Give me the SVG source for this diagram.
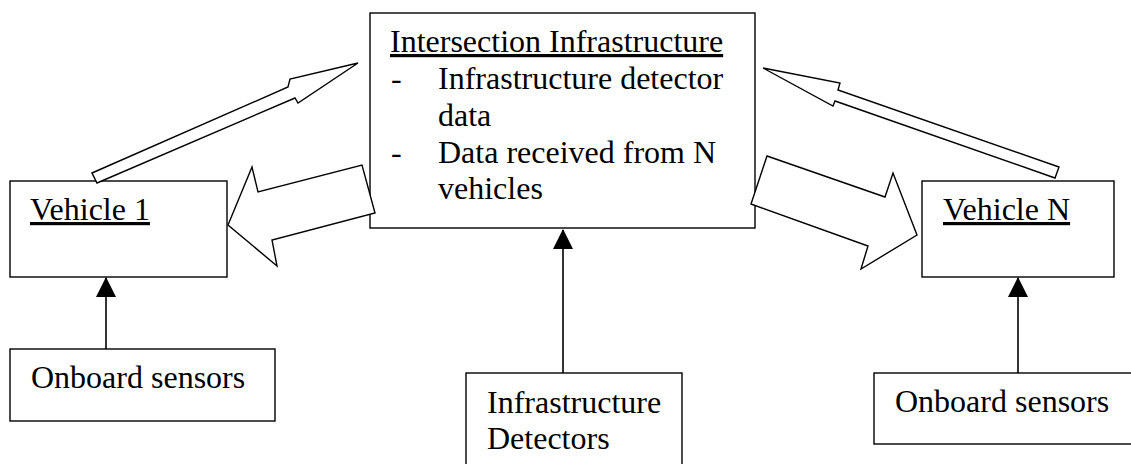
<svg xmlns="http://www.w3.org/2000/svg" width="1131" height="464" viewBox="0 0 1131 464">
  <style>
    .box { fill: #ffffff; stroke: #000000; stroke-width: 1.4; }
    .blk { fill: #ffffff; stroke: #000000; stroke-width: 1.4; stroke-linejoin: miter; }
    .t { font-size: 32px; fill: #000000; }
    .u { text-decoration: underline; }
    .line { stroke: #000000; stroke-width: 1.6; fill: none; }
  </style>
  <defs>
    <marker id="arr" markerUnits="userSpaceOnUse" markerWidth="20" markerHeight="20" viewBox="0 0 20 20" refX="19" refY="10" orient="auto">
      <path d="M0,0 L20,10 L0,20 Z" fill="#000000"/>
    </marker>
  </defs>
  <rect width="1131" height="464" fill="#ffffff"/>

  <g font-family="'Liberation Serif', Tinos, 'Times New Roman', 'DejaVu Serif', serif">
  <g id="intersection">
    <rect class="box" x="370" y="13" width="385" height="215"/>
    <text class="t u" x="390" y="52">Intersection Infrastructure</text>
    <text class="t" x="391" y="89">-</text>
    <text class="t" x="438" y="89">Infrastructure detector</text>
    <text class="t" x="438" y="126">data</text>
    <text class="t" x="391" y="163">-</text>
    <text class="t" x="438" y="163">Data received from N</text>
    <text class="t" x="438" y="199">vehicles</text>
  </g>

  <g id="vehicle1">
    <rect class="box" x="10" y="181" width="217" height="96"/>
    <text class="t u" x="30" y="220">Vehicle 1</text>
  </g>

  <g id="vehicleN">
    <rect class="box" x="922" y="181" width="192" height="96"/>
    <text class="t u" x="943" y="220">Vehicle N</text>
  </g>

  <g id="onboard1">
    <rect class="box" x="10" y="349" width="265" height="72"/>
    <text class="t" x="31" y="388">Onboard sensors</text>
  </g>

  <g id="detectors">
    <rect class="box" x="466" y="373" width="216" height="100"/>
    <text class="t" x="487" y="413">Infrastructure</text>
    <text class="t" x="487" y="449">Detectors</text>
  </g>

  <g id="onboardN">
    <rect class="box" x="874" y="373" width="270" height="71"/>
    <text class="t" x="895" y="412">Onboard sensors</text>
  </g>
  </g>

  <g id="connectors">
    <polygon class="blk" points="92,173 288,87 290,79 358,63 298,103 295,98 97,183"/>
    <polygon class="blk" points="763,68 840,83 838,90 1059,167 1055,178 835,101 833,106"/>
    <polygon class="blk" points="228,225 252,167 258,192 362,165 375,213 272,240 277,266"/>
    <polygon class="blk" points="767,156 885,197 893,173 917,235 861,269 868,246 751,204"/>
    <line class="line" x1="106" y1="349" x2="106" y2="278" marker-end="url(#arr)"/>
    <line class="line" x1="563" y1="373" x2="563" y2="230" marker-end="url(#arr)"/>
    <line class="line" x1="1018" y1="373" x2="1018" y2="278" marker-end="url(#arr)"/>
  </g>
</svg>
